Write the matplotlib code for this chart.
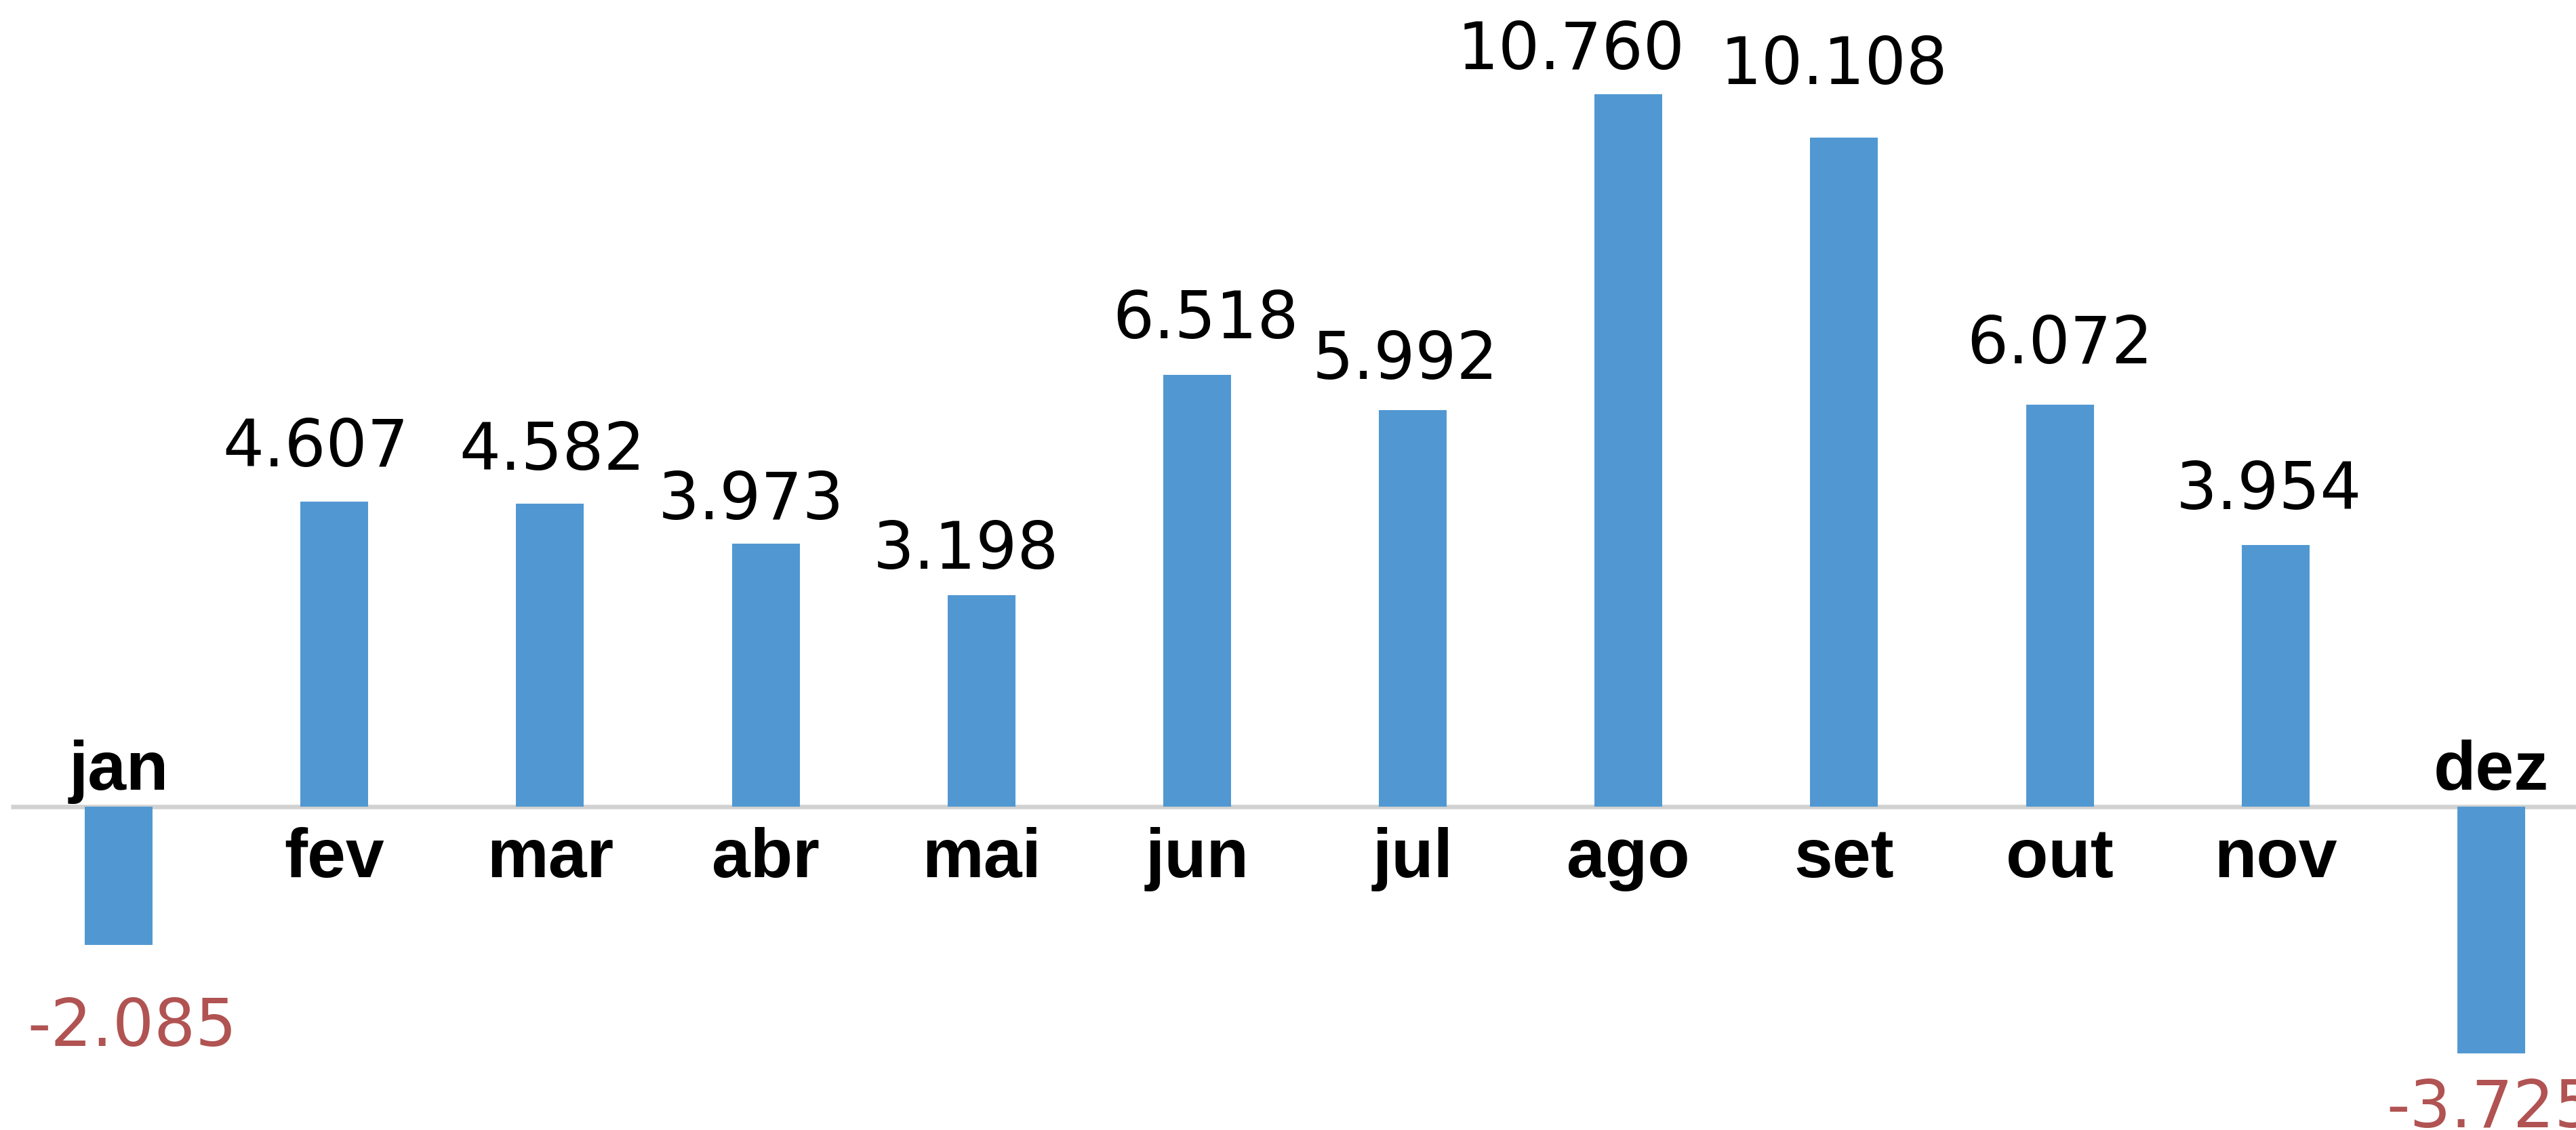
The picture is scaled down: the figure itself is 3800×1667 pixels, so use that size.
import matplotlib
matplotlib.use("Agg")
import matplotlib.pyplot as plt

months = ["jan", "fev", "mar", "abr", "mai", "jun", "jul", "ago", "set", "out", "nov", "dez"]
values = [-2.085, 4.607, 4.582, 3.973, 3.198, 6.518, 5.992, 10.760, 10.108, 6.072, 3.954, -3.725]
value_labels = ["-2.085", "4.607", "4.582", "3.973", "3.198", "6.518", "5.992",
                "10.760", "10.108", "6.072", "3.954", "-3.725"]

# label layout tweaks (pixels): horizontal shift, and baseline distance from bar end
label_dx = [20, -27, 3, -22, -23, 13, -11, -85, -15, 0, -10, 0]
label_dy = [-149, 52, 50, 36, 39, 54, 46, 37, 79, 61, 53, -109]

BAR_COLOR = "#5198D2"
NEG_COLOR = "#B05352"
AXIS_COLOR = "#D0D1D0"

fig = plt.figure(figsize=(38, 16.67), dpi=100)
ax = fig.add_axes([0, 0, 1, 1])
ax.set_xlim(-0.550, 11.393)
ax.set_ylim(-4.885, 12.186)
ax.axis("off")

x = list(range(len(months)))
ax.plot([-0.5, 11.5], [0, 0], color=AXIS_COLOR, lw=4.7, zorder=1, solid_capstyle="butt")
ax.bar(x, values, width=0.3143, color=BAR_COLOR, zorder=2)

for i, (m, v, lab) in enumerate(zip(months, values, value_labels)):
    color = "black" if v >= 0 else NEG_COLOR
    ax.annotate(lab, xy=(i, v), xytext=(label_dx[i], label_dy[i]),
                textcoords="offset pixels", ha="center", va="baseline",
                fontsize=69, family="DejaVu Sans", color=color, zorder=3)
    if v >= 0:
        ax.annotate(m, xy=(i, 0), xytext=(0, -104), textcoords="offset pixels",
                    ha="center", va="baseline", fontsize=73.5,
                    family="Liberation Sans", fontweight="bold", color="black")
    else:
        ax.annotate(m, xy=(i, 0), xytext=(0, 25), textcoords="offset pixels",
                    ha="center", va="baseline", fontsize=73.5,
                    family="Liberation Sans", fontweight="bold", color="black")

fig.savefig("out.png", dpi=100)
